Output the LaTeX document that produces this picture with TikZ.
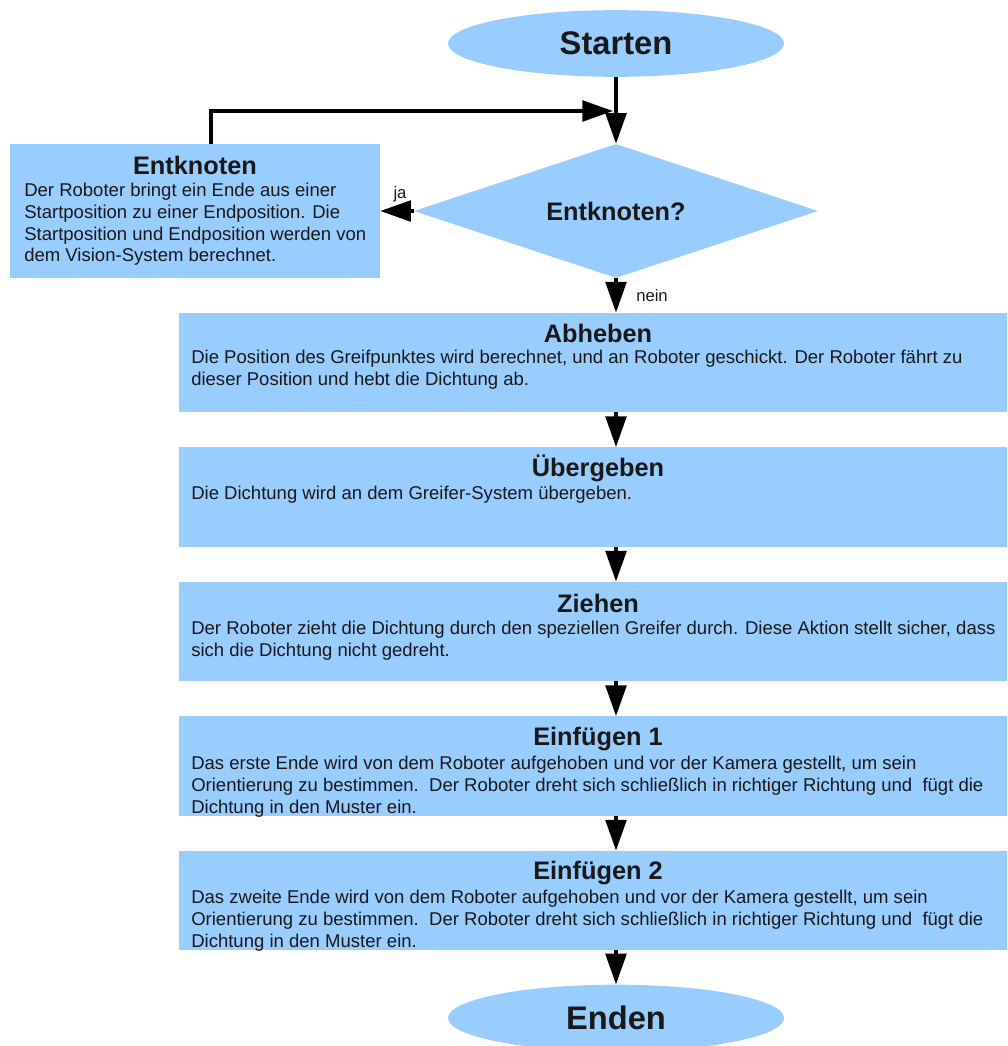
\documentclass[tikz,border=0pt]{standalone}
\usepackage{fontspec}
\setmainfont{Liberation Sans}
\usetikzlibrary{shapes.geometric,arrows.meta}
\definecolor{flowblue}{HTML}{99CCFF}

\begin{document}
\begin{tikzpicture}[x=0.75pt, y=-0.75pt,
    every node/.style={text=black!90},
    terminal/.style={ellipse, fill=flowblue, minimum width=252pt, minimum height=50pt, inner sep=0pt, font=\bfseries\fontsize{24.5}{28}\selectfont},
    decision/.style={diamond, shape aspect=3, fill=flowblue, minimum width=303pt, minimum height=100.5pt, inner sep=0pt, font=\bfseries\fontsize{19}{22}\selectfont},
    stepbox/.style={rectangle, fill=flowblue, minimum width=655.5pt, minimum height=74.5pt, inner sep=0pt},
    title/.style={font=\bfseries\fontsize{19}{22}\selectfont, inner sep=0pt},
    body/.style={align=left, anchor=north west, inner sep=0pt, font=\fontsize{13.9}{16.3}\selectfont},
    answer/.style={font=\fontsize{12.5}{14}\selectfont, inner sep=0pt},
    flow/.style={line width=2.6pt, -{Triangle[length=23pt,width=15.5pt]}}]
        \useasboundingbox (0,0) rectangle (1007,1046);
        \clip (0,0) rectangle (1007,1046);

        % Start, decision and end
        \node[terminal] (start) at (616,43.5) {Starten};
        \node[decision] (decide) at (616,211) {Entknoten?};
        \node[terminal] (finish) at (616,1018) {Enden};

        % Untangling step on the left
        \node[rectangle, fill=flowblue, minimum width=277.5pt, minimum height=100.5pt, inner sep=0pt] (untangle) at (195,211) {};
        \node[title] (untangle_title) at (195,165) {Entknoten};
        \node[body] (untangle_text) at (24,183) {Der Roboter bringt ein Ende aus einer\\Startposition zu einer Endposition. Die\\Startposition und Endposition werden von\\dem Vision-System berechnet.};

        % Main steps
        \node[stepbox] (lift) at (616,362.5) {};
        \node[stepbox] (handover) at (616,497) {};
        \node[stepbox] (pull) at (616,631.5) {};
        \node[stepbox] (insert_one) at (616,766) {};
        \node[stepbox] (insert_two) at (616,900.5) {};

        \node[title] (lift_title) at (598,333) {Abheben};
        \node[body] (lift_text) at (191,350) {Die Position des Greifpunktes wird berechnet, und an Roboter geschickt. Der Roboter fährt zu\\dieser Position und hebt die Dichtung ab.};

        \node[title] (handover_title) at (598,468) {Übergeben};
        \node[body] (handover_text) at (191,486) {Die Dichtung wird an dem Greifer-System übergeben.};

        \node[title] (pull_title) at (598,603) {Ziehen};
        \node[body] (pull_text) at (191,621) {Der Roboter zieht die Dichtung durch den speziellen Greifer durch. Diese Aktion stellt sicher, dass\\sich die Dichtung nicht gedreht.};

        \node[title] (insert_one_title) at (598,739) {Einfügen 1};
        \node[body] (insert_one_text) at (191,756) {Das erste Ende wird von dem Roboter aufgehoben und vor der Kamera gestellt, um sein\\Orientierung zu bestimmen.\ \ Der Roboter dreht sich schließlich in richtiger Richtung und\ \ fügt die\\Dichtung in den Muster ein.};

        \node[title] (insert_two_title) at (598,873) {Einfügen 2};
        \node[body] (insert_two_text) at (191,890) {Das zweite Ende wird von dem Roboter aufgehoben und vor der Kamera gestellt, um sein\\Orientierung zu bestimmen.\ \ Der Roboter dreht sich schließlich in richtiger Richtung und\ \ fügt die\\Dichtung in den Muster ein.};

        % Branch labels
        \node[answer] (yes) at (400,194) {ja};
        \node[answer] (no) at (652,296) {nein};

        % Connections
        \coordinate (merge) at (613,111);
        \draw[flow] (start) -- (decide);
        \draw[flow] (decide) -- (untangle);
        \draw[flow] ([xshift=12pt]untangle.north) |- (merge);
        \draw[flow] (decide) -- (lift);
        \draw[flow] (lift) -- (handover);
        \draw[flow] (handover) -- (pull);
        \draw[flow] (pull) -- (insert_one);
        \draw[flow] (insert_one) -- (insert_two);
        \draw[flow] (insert_two) -- (finish);
\end{tikzpicture}
\end{document}
